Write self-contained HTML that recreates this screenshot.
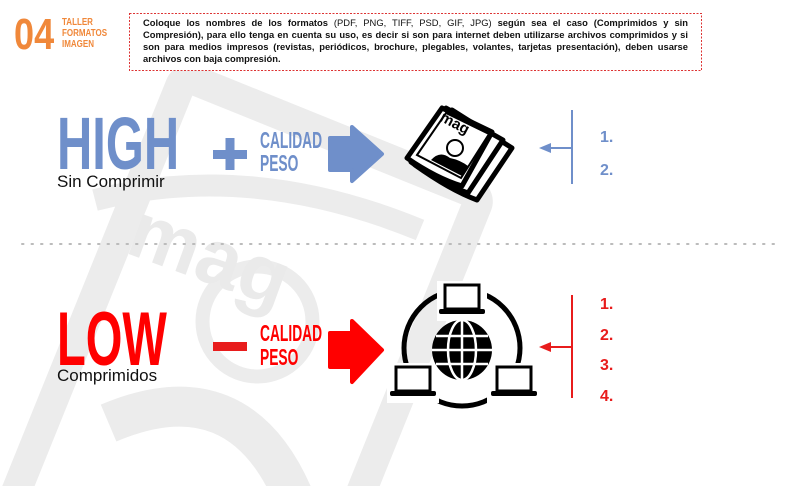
<!DOCTYPE html>
<html style="overflow:hidden"><head><meta charset="utf-8"><style>
html,body{margin:0;width:800px;height:486px;overflow:hidden}
body{background:#fff;position:relative;font-family:"Liberation Sans",sans-serif}
.a{position:absolute;white-space:nowrap}
.cond{font-family:"Liberation Sans Narrow","Liberation Sans",sans-serif;font-weight:bold;transform-origin:0 0}
</style></head><body>
<svg class="a" style="left:0;top:0" width="800" height="486">
 <g fill="none" stroke="#ececec" stroke-width="30">
  <g transform="rotate(22 250 340)">
   <rect x="90" y="120" width="320" height="470" rx="10"/>
   <circle cx="250" cy="320" r="55" stroke-width="14"/>
   <path d="M150 470 Q250 370 350 470" stroke-width="40"/>
  </g>
  <path d="M95 200 Q250 160 420 230" stroke-width="22"/>
 </g>
 <text x="130" y="285" font-size="80" font-weight="bold" fill="#eaeaea" transform="rotate(20 220 250)" font-family="Liberation Sans">mag</text>
 <line x1="22" y1="244" x2="778" y2="244" stroke="#bbb" stroke-width="2" stroke-dasharray="1.5 8" stroke-linecap="round"/>
 <rect x="129.5" y="13.5" width="572" height="57" fill="#fff" stroke="#d33" stroke-width="1" stroke-dasharray="2 1.5"/>
 <rect x="213" y="150" width="34" height="9" fill="#6f8fca"/><rect x="225.5" y="138" width="9" height="32" fill="#6f8fca"/>
 <path d="M330 138 H352 V127 L382 154 L352 181 V170 H330 Z" fill="#6f8fca" stroke="#6f8fca" stroke-width="4" stroke-linejoin="round"/>
 <rect x="213" y="342" width="34" height="9" fill="#e81c1c"/>
 <path d="M330 333 H352 V321 L382 350 L352 382 V367 H330 Z" fill="#f00" stroke="#f00" stroke-width="4" stroke-linejoin="round"/>
 <g fill="#fff" stroke="#000" stroke-width="5" stroke-linejoin="round">
  <path d="M415 165 L452 110 L512 148 L477 200 Q450 190 415 165Z"/>
  <path d="M411 162 L446 108 L503 140 L468 193 Q440 183 411 162Z"/>
  <path d="M407 158 L442 108 L492 132 L462 186 Q436 178 407 158Z"/>
 </g>
 <path d="M417 155 L446 113 L489 134 L461 178Z" fill="#fff" stroke="#000" stroke-width="2"/>
 <text x="440" y="128" font-size="15" font-weight="bold" transform="rotate(28 455 122)">mag</text>
 <circle cx="455" cy="148" r="8" fill="#fff" stroke="#000" stroke-width="2"/>
 <path d="M431 160 Q440 150 450 158 Q460 160 468 166 L462 176 Z" fill="#000"/>
 <line x1="572" y1="110" x2="572" y2="184" stroke="#6f8fca" stroke-width="2"/>
 <line x1="548" y1="148" x2="572" y2="148" stroke="#6f8fca" stroke-width="2"/>
 <path d="M539 148 L551 143 L551 153Z" fill="#6f8fca"/>
 <line x1="572" y1="295" x2="572" y2="398" stroke="#e81c1c" stroke-width="2"/>
 <line x1="548" y1="347" x2="572" y2="347" stroke="#e81c1c" stroke-width="2"/>
 <path d="M539 347 L551 342 L551 352Z" fill="#e81c1c"/>
 <circle cx="462" cy="348" r="58" fill="none" stroke="#000" stroke-width="5"/>
 <g fill="#fff" stroke="#fff" stroke-width="6">
  <rect x="440" y="284" width="44" height="34"/><rect x="390" y="366" width="46" height="34"/><rect x="490" y="366" width="46" height="34"/>
 </g>
 <g>
  <rect x="445" y="285" width="34" height="24" fill="#fff" stroke="#000" stroke-width="3"/>
  <rect x="439" y="309" width="46" height="5" rx="2"/>
  <rect x="396" y="367" width="34" height="24" fill="#fff" stroke="#000" stroke-width="3"/>
  <rect x="390" y="391" width="46" height="5" rx="2"/>
  <rect x="497" y="367" width="34" height="24" fill="#fff" stroke="#000" stroke-width="3"/>
  <rect x="491" y="391" width="46" height="5" rx="2"/>
 </g>
 <circle cx="462" cy="350" r="30"/>
 <g stroke="#fff" stroke-width="2.5" fill="none">
  <ellipse cx="462" cy="350" rx="14" ry="30"/>
  <line x1="462" y1="320" x2="462" y2="380"/>
  <line x1="432" y1="350" x2="492" y2="350"/>
  <line x1="436" y1="336" x2="488" y2="336"/>
  <line x1="436" y1="364" x2="488" y2="364"/>
 </g>
</svg>

<div class="a cond" style="left:14px;top:10px;font-size:44px;color:#f0883a;transform:scaleX(0.82)">04</div>
<div class="a cond" style="left:62px;top:17px;font-size:10px;line-height:11px;color:#f0883a;transform:scaleX(0.8)">TALLER<br>FORMATOS<br>IMAGEN</div>
<div class="a" style="left:143px;top:17px;width:545px;white-space:normal;font-size:9.4px;line-height:12px;font-weight:bold;text-align:justify;color:#111">Coloque los nombres de los formatos <span style="font-weight:normal">(PDF, PNG, TIFF, PSD, GIF, JPG)</span> según sea el caso (Comprimidos y sin Compresión), para ello tenga en cuenta su uso, es decir si son para internet deben utilizarse archivos comprimidos y si son para medios impresos (revistas, periódicos, brochure, plegables, volantes, tarjetas presentación), deben usarse archivos con baja compresión.</div>

<div class="a cond" style="left:57px;top:104px;font-size:74px;line-height:80px;color:#6f8fca;transform:scaleX(0.66)">HIGH</div>
<div class="a" style="left:57px;top:172px;font-size:17px;color:#111">Sin Comprimir</div>
<div class="a cond" style="left:260px;top:129px;font-size:23px;line-height:23px;color:#6f8fca;transform:scaleX(0.6)">CALIDAD<br>PESO</div>
<div class="a" style="left:600px;top:121px;font-size:16px;line-height:33px;font-weight:bold;color:#6f8fca">1.<br>2.</div>

<div class="a cond" style="left:57px;top:300px;font-size:76px;line-height:80px;color:#f00;transform:scaleX(0.62)">LOW</div>
<div class="a" style="left:57px;top:366px;font-size:17px;color:#111">Comprimidos</div>
<div class="a cond" style="left:260px;top:321px;font-size:23px;line-height:24px;color:#f00;transform:scaleX(0.6)">CALIDAD<br>PESO</div>
<div class="a" style="left:600px;top:290px;font-size:16px;line-height:30.5px;font-weight:bold;color:#e81c1c">1.<br>2.<br>3.<br>4.</div>
</body></html>
